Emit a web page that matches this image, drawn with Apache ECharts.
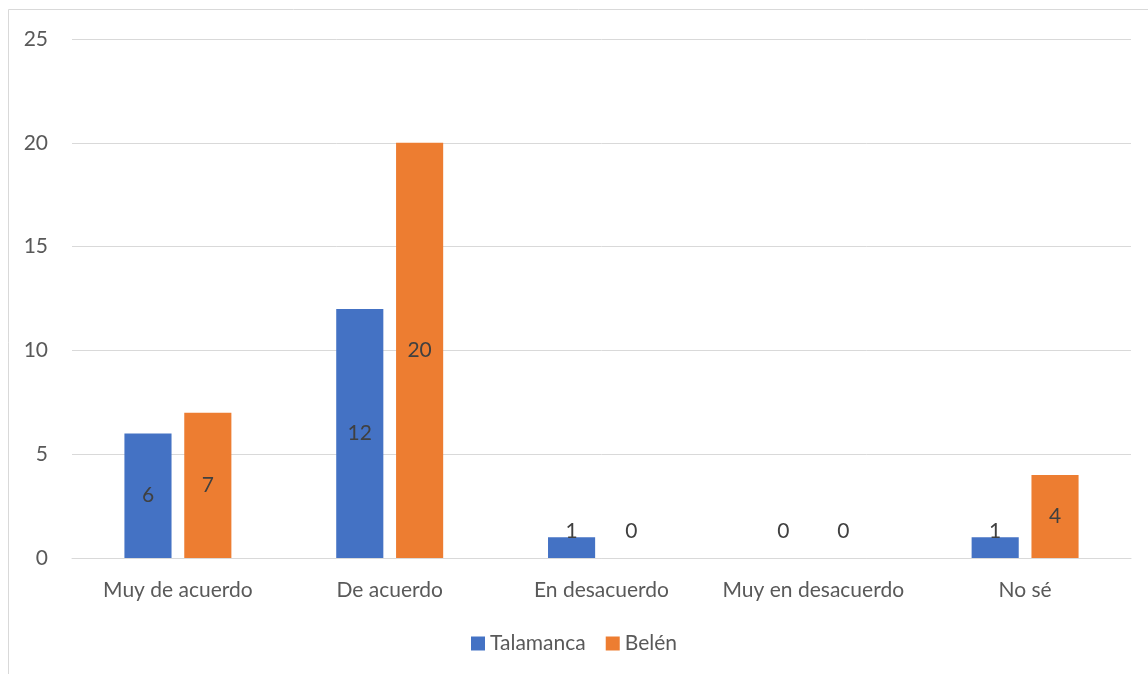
<!DOCTYPE html>
<html>
<head>
<meta charset="utf-8">
<style>
html,body{margin:0;padding:0;background:#fff;}
#chart{width:1148px;height:674px;}
</style>
<script src="https://cdn.jsdelivr.net/npm/echarts@6/dist/echarts.min.js"></script>
</head>
<body>
<div id="chart"></div>
<script>
const categories = ["Muy de acuerdo", "De acuerdo", "En desacuerdo", "Muy en desacuerdo", "No sé"];
const talamanca = [6, 12, 1, 0, 1];
const belen = [7, 20, 0, 0, 4];
const seriesNames = ["Talamanca", "Belén"];
const yTicks = { min: 0, max: 25, interval: 5 };

const FONT = "Lato, 'Open Sans', 'Noto Sans', sans-serif";
const FS = 21;

function toData(arr) {
  return arr.map(v => {
    if (v <= 1) {
      return { value: v, label: { position: 'insideBottom', distance: 16 } };
    }
    return { value: v };
  });
}

const labelStyle = {
  show: true,
  position: 'inside',
  color: '#404040',
  fontFamily: FONT,
  fontSize: FS
};

const chart = echarts.init(document.getElementById('chart'));
chart.setOption({
  animation: false,
  backgroundColor: '#ffffff',
  graphic: [{
    type: 'rect',
    shape: { x: 8.5, y: 9.5, width: 1200, height: 700 },
    style: { fill: 'none', stroke: '#d9d9d9', lineWidth: 1 },
    silent: true,
    z: -1
  }],
  grid: { left: 72, right: 17, top: 39, bottom: 116, containLabel: false },
  legend: {
    bottom: 15,
    left: 'center',
    itemWidth: 14,
    itemHeight: 14,
    itemGap: 20,
    icon: 'rect',
    textStyle: { color: '#595959', fontSize: FS, fontFamily: FONT },
    data: seriesNames
  },
  xAxis: {
    type: 'category',
    data: categories,
    axisLine: { show: true, lineStyle: { color: '#d9d9d9', width: 1 } },
    axisTick: { show: false },
    axisLabel: { color: '#595959', fontSize: FS, fontFamily: FONT, margin: 22, interval: 0 }
  },
  yAxis: {
    type: 'value',
    min: yTicks.min,
    max: yTicks.max,
    interval: yTicks.interval,
    axisLine: { show: false },
    axisTick: { show: false },
    splitLine: { lineStyle: { color: '#d9d9d9', width: 1 } },
    axisLabel: { color: '#595959', fontSize: FS, fontFamily: FONT, margin: 24 }
  },
  series: [
    {
      name: seriesNames[0],
      type: 'bar',
      data: toData(talamanca),
      itemStyle: { color: '#4472c4' },
      barGap: '27%',
      barCategoryGap: '49.5%',
      label: labelStyle
    },
    {
      name: seriesNames[1],
      type: 'bar',
      data: toData(belen),
      itemStyle: { color: '#ed7d31' },
      barGap: '27%',
      barCategoryGap: '49.5%',
      label: labelStyle
    }
  ]
});
</script>
</body>
</html>
